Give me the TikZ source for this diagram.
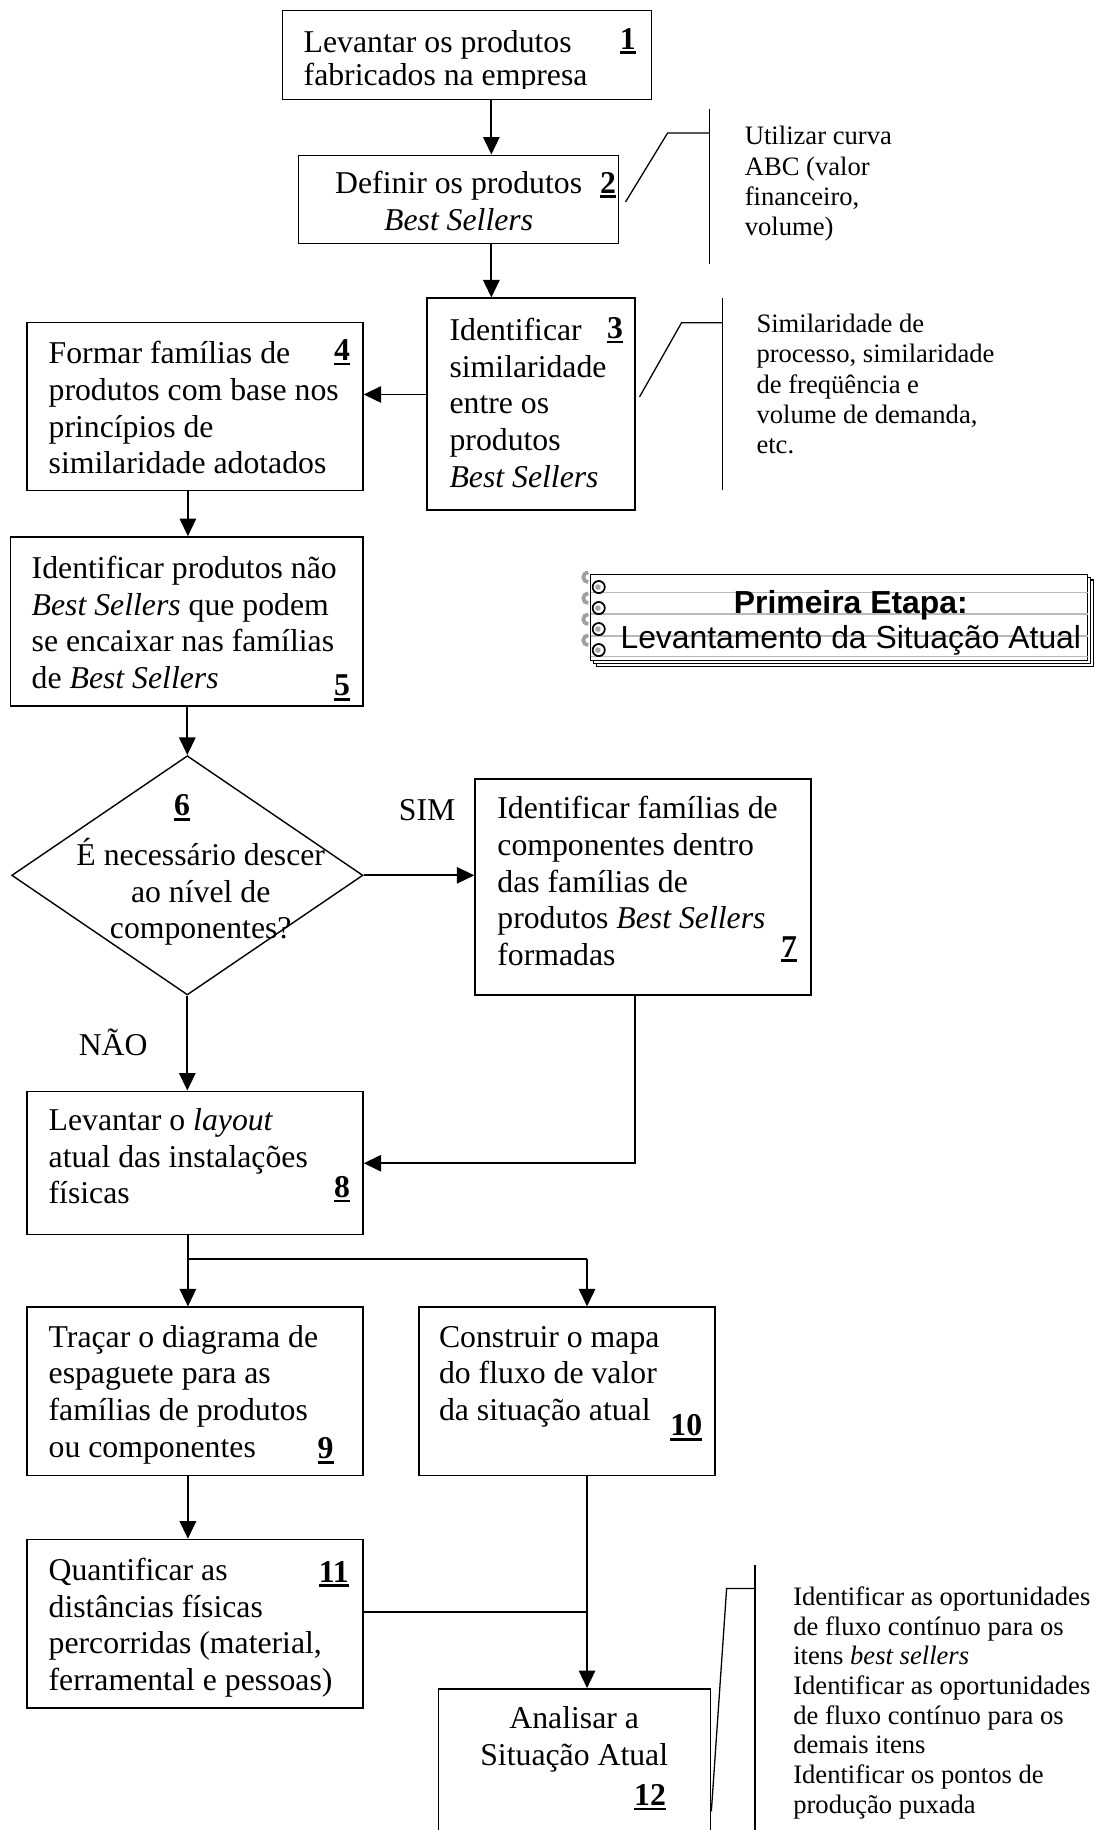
\documentclass[tikz,border=0pt]{standalone}
\usepackage{fontspec}
\setmainfont{Liberation Serif}
\newfontfamily\nbfont{Liberation Sans}
\usetikzlibrary{arrows.meta,shapes.geometric}
\newcommand\stepnum[1]{\setbox0\hbox{\textbf{#1}}\vtop{\copy0\kern1.8pt\hrule height 2.2pt width \wd0}}
\newcommand\mkbox[5]{\node[flowbox, minimum width={(#4-#2)*1pt}, minimum height={(#5-#3)*1pt}] (#1) at ({(#2+#4)/2},{(#3+#5)/2}) {};}
\begin{document}
\begin{tikzpicture}[x=1pt,y=-1pt,
  flowbox/.style={draw, line width=1.2pt, inner sep=0pt, rectangle},
  bodytxt/.style={inner sep=0pt, align=left, anchor=north west, font=\fontsize{27.2}{31.4}\selectfont},
  bodytxtc/.style={inner sep=0pt, align=center, anchor=north, font=\fontsize{27.2}{31.4}\selectfont},
  notetxt/.style={inner sep=0pt, align=left, anchor=north west, font=\fontsize{22.8}{25.8}\selectfont},
  numlbl/.style={inner sep=0pt, anchor=base, font=\fontsize{27.2}{31.4}\selectfont},
  flowarr/.style={line width=1.6pt, -{Triangle[length=15pt,width=14pt]}},
  flowline/.style={line width=1.6pt},
  leadline/.style={line width=1.1pt},
]
\useasboundingbox (0,0) rectangle (939,1568);

% ---------- boxes ----------
\mkbox{b1}{242}{9}{558}{85}
\mkbox{b2}{256}{133}{530}{208.5}
\mkbox{b3}{366}{255.5}{544}{437}
\mkbox{b4}{23}{276.5}{311}{420.5}
\mkbox{b5}{9}{460}{311}{605}
\node[diamond, draw, line width=1.2pt, inner sep=0pt, minimum width=301pt, minimum height=205pt] (d6) at (160.5,750) {};
\mkbox{b7}{407}{667.6}{695}{852.5}
\mkbox{b8}{23}{935}{311}{1058}
\mkbox{b9}{23}{1120}{311}{1264}
\mkbox{b10}{359}{1120}{612.6}{1264}
\mkbox{b11}{23}{1319}{311}{1463.5}
\mkbox{b12}{375.5}{1447}{609}{1600}

% ---------- texts ----------
\begin{scope}
\clip (242,9) rectangle (558,75.5);
\node[bodytxt, font=\fontsize{27.2}{28}\selectfont] (t1) at (260,23) {\rule{0pt}{22pt}Levantar os produtos\\fabricados na empresa};
\end{scope}
\node[numlbl] (n1) at (538,42) {\stepnum{1}};

\node[bodytxtc] (t2) at (393,143.6) {\rule{0pt}{22pt}Definir os produtos\\\textit{Best Sellers}};
\node[numlbl] (n2) at (521,165.6) {\stepnum{2}};

\node[bodytxt] (t3) at (385,269.5) {\rule{0pt}{22pt}Identificar\\similaridade\\entre os\\produtos\\\textit{Best Sellers}};
\node[numlbl] (n3) at (527,290) {\stepnum{3}};

\node[bodytxt] (t4) at (41.5,289.5) {\rule{0pt}{22pt}Formar famílias de\\produtos com base nos\\princípios de\\similaridade adotados};
\node[numlbl] (n4) at (293,309) {\stepnum{4}};

\node[bodytxt] (t5) at (27,473.5) {\rule{0pt}{22pt}Identificar produtos não\\\textit{Best Sellers} que podem\\se encaixar nas famílias\\de \textit{Best Sellers}};
\node[numlbl] (n5) at (293,596) {\stepnum{5}};

\node[numlbl] (n6) at (156,699) {\stepnum{6}};
\node[bodytxtc] (t6) at (172,716.5) {\rule{0pt}{25pt}É necessário descer\\ao nível de\\componentes?};

\node[numlbl] (sim) at (366,703) {SIM};
\node[numlbl] (nao) at (97,904) {NÃO};

\node[bodytxt] (t7) at (426,679.5) {\rule{0pt}{22pt}Identificar famílias de\\componentes dentro\\das famílias de\\produtos \textit{Best Sellers}\\formadas};
\node[numlbl] (n7) at (676,820) {\stepnum{7}};

\node[bodytxt] (t8) at (41.5,946.5) {\rule{0pt}{22pt}Levantar o \textit{layout}\\atual das instalações\\físicas};
\node[numlbl] (n8) at (293,1026) {\stepnum{8}};

\node[bodytxt] (t9) at (41.5,1132) {\rule{0pt}{22pt}Traçar o diagrama de\\espaguete para as\\famílias de produtos\\ou componentes};
\node[numlbl] (n9) at (279,1250) {\stepnum{9}};

\node[bodytxt] (t10) at (376,1132) {\rule{0pt}{22pt}Construir o mapa\\do fluxo de valor\\da situação atual};
\node[numlbl] (n10) at (588,1230) {\stepnum{10}};

\node[bodytxt] (t11) at (41.5,1332) {\rule{0pt}{22pt}Quantificar as\\distâncias físicas\\percorridas (material,\\ferramental e pessoas)};
\node[numlbl] (n11) at (286,1355.5) {\stepnum{11}};

\node[bodytxtc] (t12) at (492,1459) {\rule{0pt}{22pt}Analisar a\\Situação Atual};
\node[numlbl] (n12) at (557,1547) {\stepnum{12}};

% ---------- callout notes ----------
\node[notetxt, font=\fontsize{22.8}{26}\selectfont] (c2) at (638,106) {\rule{0pt}{18pt}Utilizar curva\\ABC (valor\\financeiro,\\volume)};
\node[notetxt] (c3) at (648,267) {\rule{0pt}{18pt}Similaridade de\\processo, similaridade\\de freqüência e\\volume de demanda,\\etc.};
\node[notetxt, font=\fontsize{22.8}{25.4}\selectfont] (c12) at (679.5,1357.5) {\rule{0pt}{18pt}Identificar as oportunidades\\de fluxo contínuo para os\\itens \textit{best sellers}\\Identificar as oportunidades\\de fluxo contínuo para os\\demais itens\\Identificar os pontos de\\produção puxada};

% ---------- connectors ----------
\coordinate (cA) at (421,0);
\coordinate (cB) at (161,0);
\coordinate (cC) at (544,0);
\coordinate (cD) at (503,0);
\coordinate (rA) at (0,338);
\coordinate (rB) at (0,996.7);
\coordinate (rC) at (0,1078.7);
\coordinate (rD) at (0,1381);

\draw[flowarr] (b1.south -| cA) -- (b2.north -| cA);
\draw[flowarr] (b2.south -| cA) -- (b3.north -| cA);
\draw[flowarr] (b3.west |- rA) -- (b4.east |- rA);
\draw[flowarr] (b4.south -| cB) -- (b5.north -| cB);
\draw[flowarr] (b5.south -| d6.north) -- (d6.north);
\draw[flowarr] (d6.east) -- (b7.west |- d6.east);
\draw[flowarr] (d6.south) -- (b8.north -| d6.south);
\draw[flowarr] (b7.south -| cC) -- (cC |- rB) -- (b8.east |- rB);
\draw[flowline] (b8.south -| cB) -- (cB |- rC) -- (cD |- rC);
\draw[flowarr] (cB |- rC) -- (b9.north -| cB);
\draw[flowarr] (cD |- rC) -- (b10.north -| cD);
\draw[flowarr] (b9.south -| cB) -- (b11.north -| cB);
\draw[flowline] (b11.east |- rD) -- (cD |- rD);
\draw[flowarr] (b10.south -| cD) -- (b12.north -| cD);

% ---------- callout leaders ----------
\coordinate (k2a) at (608,93);  \coordinate (k2b) at (608,226);
\coordinate (k2c) at (572,114); \coordinate (k2d) at (536,173);
\draw[leadline] (k2a) -- (k2b);
\draw[leadline] (k2c -| k2a) -- (k2c) -- (k2d);
\coordinate (k3a) at (619,255.5); \coordinate (k3b) at (619,420);
\coordinate (k3c) at (584,276.5); \coordinate (k3d) at (548,340);
\draw[leadline] (k3a) -- (k3b);
\draw[leadline] (k3c -| k3a) -- (k3c) -- (k3d);
\coordinate (k12a) at (647,1341); \coordinate (k12b) at (647,1600);
\coordinate (k12c) at (622.6,1361); \coordinate (k12d) at (609.5,1552);
\draw[leadline] (k12a) -- (k12b);
\draw[leadline] (k12c -| k12a) -- (k12c) -- (k12d);

% ---------- notebook title ----------
\foreach \o in {5,2.5,0}
  \draw[line width=1pt, fill=white] (506+\o,492+\o) rectangle (932+\o,566+\o);
\foreach \yy in {507.5,526.3,545,562.6}
  \draw[gray!55, line width=1.3pt] (506,\yy) -- (932,\yy);
\foreach \yy in {503,521,539,557} {
  \draw[gray!75, line width=3.2pt] (504,\yy-4.2) arc (90:270:4.2);
  \draw[line width=1.5pt, fill=white] (513,\yy) circle (5.2);
  \fill[gray!70] (512.3,\yy) circle (2.4);
}
\node[anchor=base, inner sep=0pt, font=\nbfont\bfseries\fontsize{27.3}{30}\selectfont] (nbt1) at (729,526) {Primeira Etapa:};
\node[anchor=base, inner sep=0pt, font=\nbfont\fontsize{27.3}{30}\selectfont] (nbt2) at (729,556) {Levantamento da Situação Atual};
\end{tikzpicture}
\end{document}
